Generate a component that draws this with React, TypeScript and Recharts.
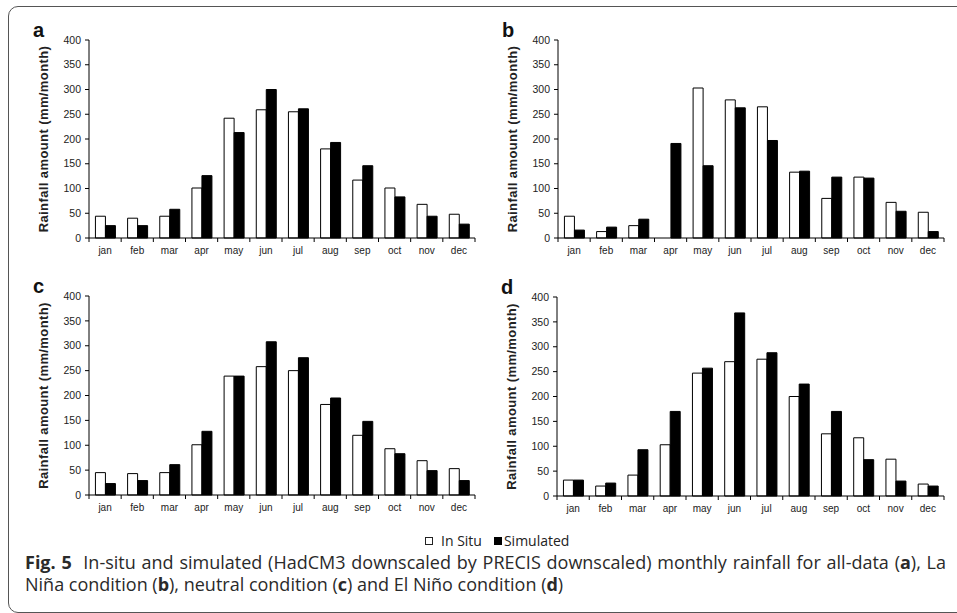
import { Bar, BarChart, XAxis, YAxis } from "recharts";

const months = ["jan", "feb", "mar", "apr", "may", "jun", "jul", "aug", "sep", "oct", "nov", "dec"];
const yTicks = [0, 50, 100, 150, 200, 250, 300, 350, 400];

// (a) all data
const inSituA = [44, 40, 44, 101, 242, 259, 255, 180, 117, 101, 68, 48];
const simulatedA = [25, 25, 58, 126, 213, 300, 261, 193, 146, 83, 44, 28];
// (b) La Niña
const inSituB = [44, 13, 25, 0, 303, 279, 265, 133, 80, 123, 72, 52];
const simulatedB = [16, 22, 38, 191, 146, 263, 197, 135, 123, 121, 54, 13];
// (c) neutral
const inSituC = [45, 43, 45, 101, 239, 258, 250, 182, 120, 93, 69, 53];
const simulatedC = [23, 29, 61, 128, 239, 308, 276, 195, 148, 83, 49, 29];
// (d) El Niño
const inSituD = [32, 20, 42, 103, 247, 270, 275, 200, 125, 117, 74, 24];
const simulatedD = [32, 26, 93, 170, 257, 368, 288, 225, 170, 73, 30, 20];

const axisFont = "'Liberation Sans', Arial, sans-serif";
const captionFont = "'Open Sans', sans-serif";

const MonthTick = (props: any) => {
  const { x, y, payload, index, step } = props;
  return (
    <g>
      <line x1={x - step / 2} x2={x - step / 2} y1={y} y2={y + 4} stroke="#000" />
      {index === months.length - 1 && (
        <line x1={x + step / 2} x2={x + step / 2} y1={y} y2={y + 4} stroke="#000" />
      )}
      <text x={x} y={y + 16} textAnchor="middle" fontSize={10} fill="#222" fontFamily={axisFont}>
        {payload.value}
      </text>
    </g>
  );
};

interface PanelProps {
  letter: string;
  inSitu: number[];
  simulated: number[];
  left: number;
  top: number;
  width: number;
  height: number;
  marginTop: number;
  marginRight: number;
  yAxisWidth: number;
  xAxisHeight: number;
}

const Panel = ({
  letter,
  inSitu,
  simulated,
  left,
  top,
  width,
  height,
  marginTop,
  marginRight,
  yAxisWidth,
  xAxisHeight,
}: PanelProps) => {
  const data = months.map((m, i) => ({ month: m, inSitu: inSitu[i], simulated: simulated[i] }));
  const step = (width - marginRight - yAxisWidth) / months.length;
  const labelX = yAxisWidth - 46;
  const labelY = marginTop + (height - marginTop - xAxisHeight) / 2;

  return (
    <div style={{ position: "absolute", left, top, width, height }}>
      <BarChart
        width={width}
        height={height}
        data={data}
        margin={{ top: marginTop, right: marginRight, bottom: 0, left: 0 }}
        barCategoryGap="20%"
        barGap={0}
      >
        <XAxis
          dataKey="month"
          height={xAxisHeight}
          interval={0}
          tickSize={0}
          tickMargin={0}
          axisLine={{ stroke: "#000" }}
          tick={(p: any) => <MonthTick {...p} step={step} />}
        />
        <YAxis
          width={yAxisWidth}
          domain={[0, 400]}
          ticks={yTicks}
          interval={0}
          tickSize={4}
          tickMargin={4}
          axisLine={{ stroke: "#000" }}
          tickLine={{ stroke: "#000" }}
          tick={{ fontSize: 10.5, fill: "#222", fontFamily: axisFont }}
          label={() => (
            <text
              x={labelX}
              y={labelY}
              transform={`rotate(-90 ${labelX} ${labelY})`}
              textAnchor="middle"
              dominantBaseline="central"
              fontSize={13}
              fontWeight="bold"
              letterSpacing={0.4}
              fill="#222"
              fontFamily={axisFont}
            >
              Rainfall amount (mm/month)
            </text>
          )}
        />
        <Bar dataKey="inSitu" fill="#fff" stroke="#000" strokeWidth={1} isAnimationActive={false} />
        <Bar dataKey="simulated" fill="#000" stroke="#000" strokeWidth={1} isAnimationActive={false} />
      </BarChart>
      <div
        style={{
          position: "absolute",
          left: yAxisWidth - 56,
          top: marginTop - 20,
          fontFamily: axisFont,
          fontWeight: "bold",
          fontSize: 20,
          lineHeight: "20px",
          color: "#111",
        }}
      >
        {letter}
      </div>
    </div>
  );
};

export default function App() {
  return (
    <div
      style={{
        position: "absolute",
        left: 0,
        top: 0,
        width: 957,
        height: 613,
        overflow: "hidden",
        background: "#fff",
      }}
    >
      <div
        style={{
          position: "absolute",
          left: 8,
          top: 6,
          width: 1000,
          height: 605,
          border: "1px solid #555",
          borderRadius: 10,
        }}
      />
      <Panel letter="a" inSitu={inSituA} simulated={simulatedA} left={0} top={0} width={480} height={262}
        marginTop={40} marginRight={5} yAxisWidth={89} xAxisHeight={24} />
      <Panel letter="b" inSitu={inSituB} simulated={simulatedB} left={478} top={0} width={479} height={262}
        marginTop={40} marginRight={13} yAxisWidth={80} xAxisHeight={24} />
      <Panel letter="c" inSitu={inSituC} simulated={simulatedC} left={0} top={255} width={480} height={265}
        marginTop={41} marginRight={5} yAxisWidth={89} xAxisHeight={25} />
      <Panel letter="d" inSitu={inSituD} simulated={simulatedD} left={478} top={255} width={479} height={266}
        marginTop={42} marginRight={13} yAxisWidth={79} xAxisHeight={25} />

      <div
        style={{
          position: "absolute",
          left: 425,
          top: 534,
          height: 14,
          lineHeight: "14px",
          display: "flex",
          alignItems: "center",
          fontFamily: captionFont,
          fontSize: 14,
          color: "#222",
          whiteSpace: "nowrap",
        }}
      >
        <span style={{ width: 6, height: 6, border: "1.5px solid #222", display: "inline-block", marginRight: 8 }} />
        <span>In Situ</span>
        <span style={{ width: 8, height: 8, background: "#000", display: "inline-block", marginLeft: 12, marginRight: 2 }} />
        <span>Simulated</span>
      </div>

      <div
        style={{
          position: "absolute",
          left: 25,
          top: 551,
          width: 921,
          fontFamily: captionFont,
          fontSize: 18,
          lineHeight: "22px",
          color: "#2a2a2a",
          whiteSpace: "nowrap",
        }}
      >
        <div style={{ textAlign: "justify", textAlignLast: "justify" }}>
          <b>Fig. 5</b>&nbsp; In-situ and simulated (HadCM3 downscaled by PRECIS downscaled) monthly rainfall for all-data (<b>a</b>), La
        </div>
        <div>
          Niña condition (<b>b</b>), neutral condition (<b>c</b>) and El Niño condition (<b>d</b>)
        </div>
      </div>
    </div>
  );
}
